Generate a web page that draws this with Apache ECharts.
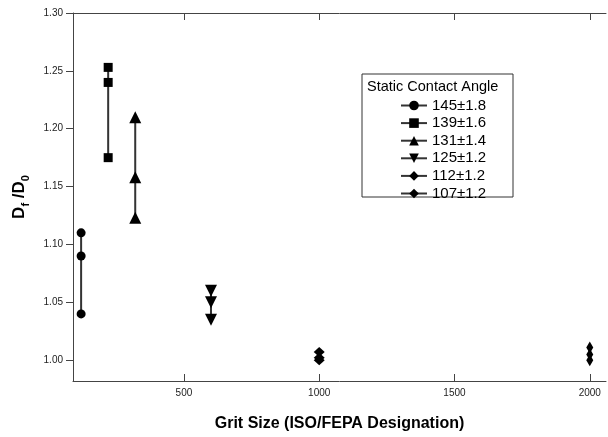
<!DOCTYPE html>
<html>
<head>
<meta charset="utf-8">
<script src="https://cdn.jsdelivr.net/npm/echarts@6/dist/echarts.min.js"></script>
<style>
  html, body { margin: 0; padding: 0; background: #fff; }
  #chart { width: 608px; height: 437px; }
</style>
</head>
<body>
<div id="chart"></div>
<script>
// grit size per contact angle group
const gritSizes = [120, 220, 320, 600, 1000, 2000];
const angleNames = ['145±1.8', '139±1.6', '131±1.4', '125±1.2', '112±1.2', '107±1.2'];
// Df/D0 readings for each group
const ratio145 = [1.110, 1.090, 1.040];
const ratio139 = [1.253, 1.240, 1.175];
const ratio131 = [1.210, 1.158, 1.123];
const ratio125 = [1.060, 1.050, 1.035];
const ratio112 = [1.007, 1.002, 1.000];
const ratio107 = [1.011, 1.005, 1.000];
const yTicks = [1.00, 1.05, 1.10, 1.15, 1.20, 1.25, 1.30];
const xTicks = [500, 1000, 1500, 2000];

const ratios = [ratio145, ratio139, ratio131, ratio125, ratio112, ratio107];
const symbols = ['circle', 'rect', 'triangle', 'triangle', 'diamond', 'diamond'];
const sizes = [9, 9, 12, 12, [11, 10], [7, 12]];
const rotates = [0, 0, 0, 180, 0, 0];

const chart = echarts.init(document.getElementById('chart'));
const font = 'Liberation Sans, Arial, sans-serif';

const series = angleNames.map((name, i) => {
   return {
      type: 'line',
      name: name,
      data: ratios[i].map(v => [gritSizes[i], v]),
      symbol: symbols[i],
      symbolSize: sizes[i],
      symbolRotate: rotates[i],
      showAllSymbol: true,
      lineStyle: { color: '#333', width: 2 },
      itemStyle: { color: '#000' },
      emphasis: { disabled: true },
   }
});

const option = {
   animation: false,
   grid: { left: 73, top: 13, right: 2, bottom: 52 },
   xAxis: [
      {
         type: 'value',
         min: 90,
         max: 2060,
         name: 'Grit Size (ISO/FEPA Designation)',
         nameLocation: 'middle',
         nameGap: 35,
         nameTextStyle: { fontFamily: font, fontSize: 16, fontWeight: 'bold', color: '#000' },
         axisLine: { lineStyle: { color: '#444' } },
         axisTick: { inside: true, length: 7, customValues: xTicks, lineStyle: { color: '#444' } },
         axisLabel: {
            customValues: xTicks,
            formatter: v => String(v),
            fontFamily: font, fontSize: 10, color: '#222', margin: 7,
         },
         splitLine: { show: false },
      },
      {
         type: 'value',
         position: 'top',
         min: 90,
         max: 2060,
         axisLine: { show: true, lineStyle: { color: '#444' } },
         axisTick: { inside: true, length: 7, customValues: xTicks, lineStyle: { color: '#444' } },
         axisLabel: { show: false },
         splitLine: { show: false },
      }
   ],
   yAxis: {
      type: 'value',
      min: 0.982,
      max: 1.30,
      name: '{a|D}{s|f}{a| /D}{s|0}',
      nameLocation: 'middle',
      nameRotate: 90,
      nameGap: 42,
      nameTextStyle: {
         rich: {
            a: { fontFamily: font, fontSize: 17, fontWeight: 'bold', color: '#000', lineHeight: 24, verticalAlign: 'middle' },
            s: { fontFamily: font, fontSize: 11, fontWeight: 'bold', color: '#000', lineHeight: 24, verticalAlign: 'bottom' },
         }
      },
      axisLine: { show: true, lineStyle: { color: '#444' } },
      axisTick: { show: true, length: 7, customValues: yTicks, lineStyle: { color: '#444' } },
      axisLabel: {
         customValues: yTicks,
         formatter: v => v.toFixed(2),
         fontFamily: font, fontSize: 10, color: '#222', margin: 10,
      },
      splitLine: { show: false },
   },
   legend: {
      orient: 'vertical',
      left: 395,
      top: 93,
      itemWidth: 26,
      itemHeight: 12,
      itemGap: 2.6,
      data: angleNames,
      textStyle: { fontFamily: font, fontSize: 15, color: '#000' },
   },
   graphic: [
      {
         type: 'rect',
         shape: { x: 362, y: 74, width: 151, height: 123 },
         style: { fill: 'none', stroke: '#333', lineWidth: 1 },
      },
      {
         type: 'text',
         x: 367,
         y: 79,
         style: { text: 'Static Contact Angle', font: '14.5px ' + font, fill: '#000' },
      }
   ],
   series: series,
};
chart.setOption(option);
</script>
</body>
</html>
